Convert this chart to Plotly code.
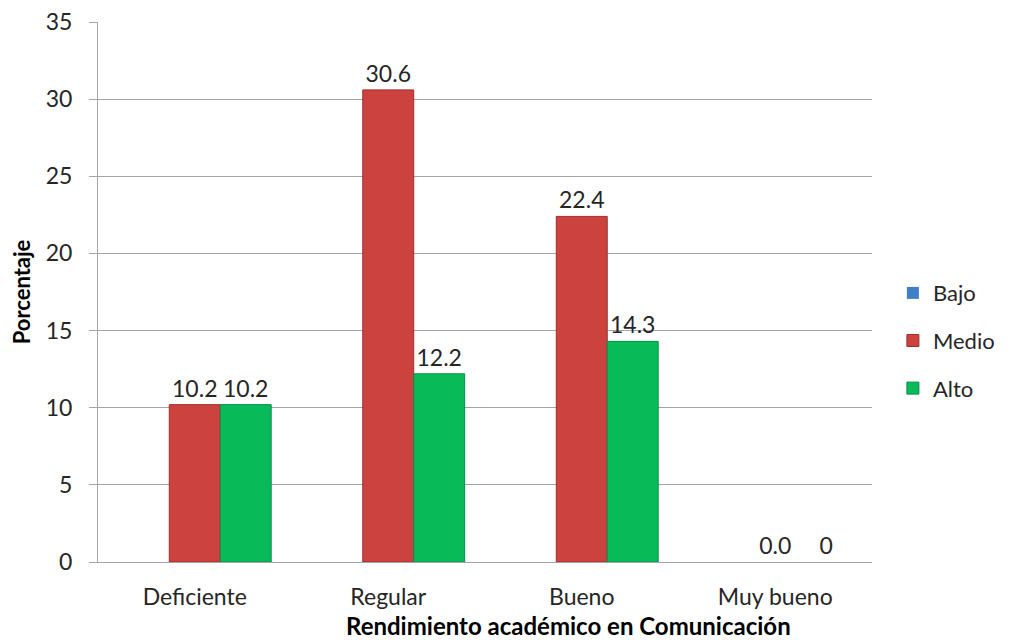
import plotly.graph_objects as go

categories = ["Deficiente", "Regular", "Bueno", "Muy bueno"]
series_names = ["Bajo", "Medio", "Alto"]
bajo = [0, 0, 0, 0]
medio = [10.2, 30.6, 22.4, 0.0]
alto = [10.2, 12.2, 14.3, 0]
medio_labels = ["10.2", "30.6", "22.4", "0.0"]
alto_labels = ["10.2", "12.2", "14.3", "0"]
y_ticks = [0, 5, 10, 15, 20, 25, 30, 35]
x_title = "Rendimiento académico en Comunicación"
y_title = "Porcentaje"

FONT = "Lato, 'Open Sans', sans-serif"
TXT = "#262626"


def edge_widths(vals):
    return [1 if v > 0 else 0 for v in vals]


fig = go.Figure()
fig.add_trace(go.Bar(x=categories, y=bajo, name=series_names[0], legendgroup="a",
                     marker=dict(color="#3F7FC8", line=dict(width=0))))
fig.add_trace(go.Bar(x=categories, y=medio, name=series_names[1], legendgroup="b",
                     text=medio_labels, textposition="outside", cliponaxis=False,
                     textfont=dict(size=23, color=TXT, family=FONT),
                     marker=dict(color="#CC423F",
                                 line=dict(color="#9E2E2C", width=edge_widths(medio)))))
fig.add_trace(go.Bar(x=categories, y=alto, name=series_names[2], legendgroup="c",
                     text=alto_labels, textposition="outside", cliponaxis=False,
                     textfont=dict(size=23, color=TXT, family=FONT),
                     marker=dict(color="#08BA58",
                                 line=dict(color="#05904A", width=edge_widths(alto)))))

# the page body adds an 8px margin, so the figure is sized to fit the window
fig.update_layout(
    width=1001, height=634,
    margin=dict(l=90, r=137, t=14, b=80, autoexpand=False),
    paper_bgcolor="white", plot_bgcolor="white",
    barmode="group", bargap=0.21, bargroupgap=0,
    font=dict(family=FONT, size=23, color=TXT),
    legend=dict(x=1.027, y=0.41, xanchor="left", yanchor="middle",
                font=dict(size=22, color=TXT), tracegroupgap=16, itemwidth=30),
    showlegend=True,
)
fig.update_yaxes(range=[0, 35], tickmode="array", tickvals=y_ticks,
                 ticklabeloverflow="allow",
                 showgrid=True, gridcolor="#A6A6A6",
                 gridwidth=1, showline=True, linecolor="#A6A6A6", ticks="outside",
                 ticklen=8, tickcolor="#A6A6A6", tickfont=dict(size=23, color=TXT),
                 ticklabelstandoff=12, automargin=False,
                 title=dict(text="<b>" + y_title + "</b>",
                            font=dict(size=22, color="#000000"), standoff=12),
                 zeroline=False)
fig.update_xaxes(showline=True, linecolor="#A6A6A6", ticks="", automargin=False,
                 ticklabeloverflow="allow",
                 tickfont=dict(size=23, color=TXT), ticklabelstandoff=14)

# x-axis title sits right of centre in the reference
fig.add_annotation(text="<b>" + x_title + "</b>", xref="paper", yref="paper",
                   x=0.608, y=0, xanchor="center", yanchor="top", yshift=-47,
                   showarrow=False, font=dict(size=24, color="#000000", family=FONT))

fig.write_html("out.html")
